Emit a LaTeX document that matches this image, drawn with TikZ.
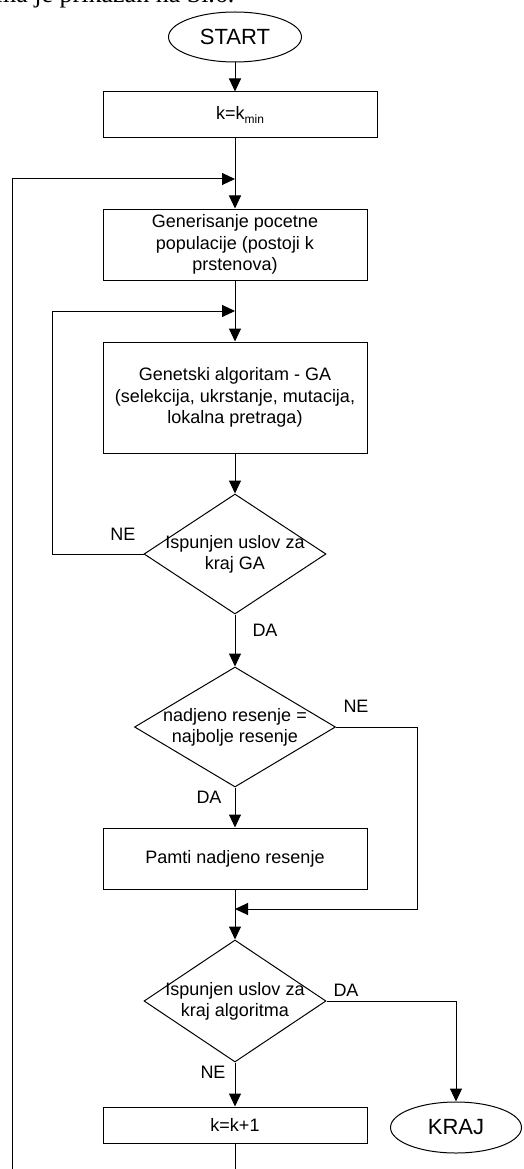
\documentclass[tikz,border=0pt]{standalone}
\usepackage{fontspec}
\setmainfont{Liberation Sans}
\newfontfamily\serifhead{Liberation Serif}
\usetikzlibrary{shapes.geometric,arrows.meta}
\begin{document}
\begin{tikzpicture}[x=1pt,y=-1pt,
  every node/.style={font=\fontsize{18}{21.5}\selectfont, inner sep=0pt},
  term/.style={draw, ellipse, line width=1pt, minimum width=133pt, minimum height=50pt, font=\fontsize{22}{26}\selectfont},
  proc/.style={draw, rectangle, line width=1pt, minimum width=264pt, align=center},
  dec/.style={draw, diamond, line width=1pt, minimum width=182pt, minimum height=120pt},
  dtext/.style={align=center, font=\fontsize{18}{21}\selectfont},
  lbl/.style={font=\fontsize{18}{21}\selectfont},
  arr/.style={line width=1pt, -{Triangle[length=13pt,width=12pt]}},
  ln/.style={line width=1pt}]
\useasboundingbox (0,0) rectangle (524,1169);

\node[font=\serifhead\fontsize{26}{30}\selectfont, anchor=base west] (head) at (-4,3) {ma je prikazan na Sl.6.};

\node[term] (start) at (235,37) {START};
\node[proc, minimum width=274pt, minimum height=46pt] (kmin) at (240,115) {k=k\raisebox{-0.45ex}{\fontsize{12}{12}\selectfont min}};
\coordinate (j1) at (235,179);
\node[proc, minimum height=71pt] (gen) at (235,244.5) {Generisanje pocetne\\populacije (postoji k\\prstenova)};
\coordinate (j2) at (235,311);
\node[proc, minimum height=111pt] (ga) at (235,397.5) {Genetski algoritam - GA\\(selekcija, ukrstanje, mutacija,\\lokalna pretraga)};
\node[dec, label={[dtext]center:{Ispunjen uslov za\\kraj GA}}] (d1) at (235,554) {};
\node[dec, minimum width=201pt, label={[dtext]center:{nadjeno resenje =\\najbolje resenje}}] (d2) at (235,727) {};
\node[proc, minimum height=61pt] (pamti) at (235,858.5) {Pamti nadjeno resenje};
\coordinate (j3) at (235,909);
\node[dec, minimum height=122pt, label={[dtext]center:{Ispunjen uslov za\\kraj algoritma}}] (d3) at (235,1001) {};
\node[proc, minimum height=36pt] (kk) at (235,1125) {k=k+1};
\node[term, minimum width=131pt, minimum height=51pt] (kraj) at (456,1127.5) {KRAJ};
\coordinate (l1) at (52,311);
\coordinate (r2) at (417,909);
\coordinate (bot) at (235,1170);
\coordinate (botl) at (12,1170);

\node[lbl] (ne1) at (123,534) {NE};
\node[lbl] (da1) at (265,630) {DA};
\node[lbl] (ne2) at (356,706) {NE};
\node[lbl] (da2) at (209,797) {DA};
\node[lbl] (da3) at (346,990) {DA};
\node[lbl] (ne3) at (213,1072) {NE};

\draw[arr] (start.south) -- (kmin.north -| start.south);
\draw[arr] (j1 |- kmin.south) -- (gen.north);
\draw[arr] (botl) |- (j1);
\draw[arr] (gen.south) -- (ga.north);
\draw[arr] (d1.west) -| (l1) -- (j2);
\draw[arr] (ga.south) -- (d1.north);
\draw[arr] (d1.south) -- (d2.north);
\draw[arr] (d2.south) -- (pamti.north);
\draw[arr] (d2.east) -| (r2) -- (j3);
\draw[ln] (pamti.south) -- (j3);
\draw[arr] (j3) -- (d3.north);
\draw[arr] (d3.east) -| (kraj.north);
\draw[arr] (d3.south) -- (kk.north);
\draw[ln] (kk.south) -- (bot);
\end{tikzpicture}
\end{document}
